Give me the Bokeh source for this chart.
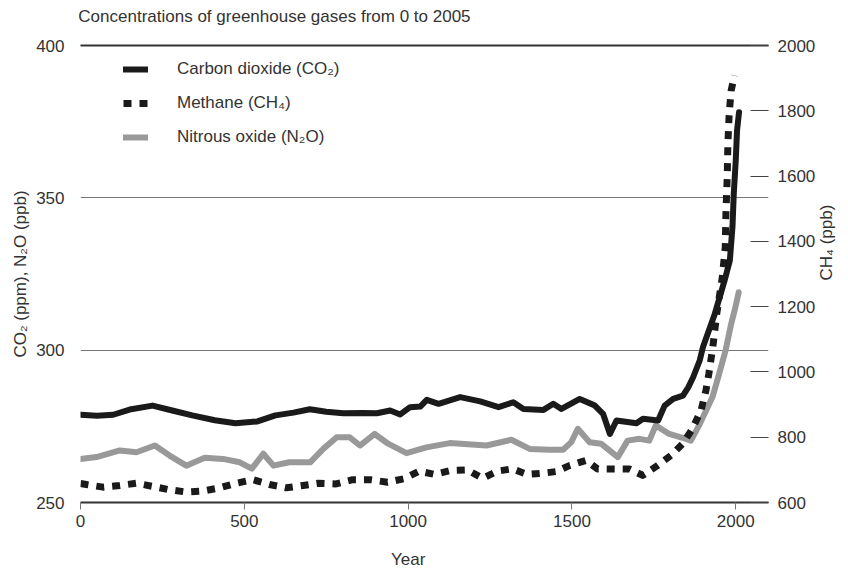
import math
from bokeh.plotting import figure
from bokeh.models import Range1d, LinearAxis, FixedTicker, Legend, LegendItem
from bokeh.embed import file_html
from bokeh.resources import INLINE

# ---- data ----
co2_year = [0, 50, 100, 150, 220, 280, 341, 410, 473, 540, 595, 650, 700, 750, 802, 860, 905,
            945, 976, 1006, 1037, 1057, 1093, 1159, 1220, 1276, 1321, 1352, 1413, 1443, 1468,
            1524, 1570, 1595, 1616, 1636, 1697, 1717, 1763, 1783, 1809, 1839, 1855, 1870, 1890,
            1900, 1936, 1966, 1982, 1990, 1994, 2000, 2004, 2010]
co2_ppm = [278.8, 278.5, 278.8, 280.5, 281.8, 280.2, 278.6, 277.0, 276.0, 276.6, 278.6, 279.5,
           280.6, 279.8, 279.3, 279.4, 279.3, 280.2, 278.9, 281.3, 281.5, 283.7, 282.4, 284.6,
           283.2, 281.3, 282.9, 280.7, 280.4, 282.4, 280.7, 284.0, 281.8, 279.1, 272.5, 276.9,
           276.0, 277.5, 276.9, 281.8, 284.0, 285.1, 287.8, 291.1, 296.6, 301.0, 311.9, 322.9,
           329.4, 340.4, 351.3, 362.2, 372.1, 378.1]

ch4_year = [0, 18, 69, 120, 171, 222, 272, 323, 374, 425, 475, 526, 577, 628, 679, 726, 780,
            831, 884, 937, 988, 1034, 1080, 1130, 1181, 1227, 1272, 1318, 1364, 1414, 1453,
            1492, 1543, 1578, 1629, 1675, 1716, 1761, 1802, 1838, 1868, 1894, 1909, 1918, 1930,
            1942, 1959, 1968, 1970, 1974, 1976, 1980, 1986, 1996]
ch4_ppb = [658, 655, 647, 652, 659, 649, 639, 632, 635, 645, 659, 670, 655, 645, 652, 659, 657,
           670, 670, 662, 673, 696, 686, 698, 700, 674, 696, 703, 686, 690, 695, 713, 729, 703,
           703, 703, 683, 713, 744, 780, 826, 882, 943, 995, 1076, 1178, 1290, 1382, 1484, 1597,
           1699, 1791, 1862, 1908]

n2o_year = [0, 49, 120, 171, 227, 272, 323, 379, 435, 486, 523, 558, 589, 637, 701, 741, 782,
            822, 853, 898, 939, 995, 1056, 1127, 1239, 1315, 1371, 1432, 1473, 1498, 1518, 1554,
            1589, 1640, 1670, 1706, 1736, 1756, 1797, 1848, 1863, 1888, 1929, 1948, 1969, 1986,
            1999, 2009]
n2o_ppb = [264.3, 264.9, 267.1, 266.5, 268.7, 265.4, 262.1, 264.7, 264.3, 263.2, 261.1, 266.0,
           262.1, 263.2, 263.2, 267.6, 271.4, 271.4, 268.7, 272.5, 269.3, 266.2, 268.1, 269.5,
           268.7, 270.6, 267.6, 267.3, 267.3, 269.8, 274.2, 269.8, 269.3, 264.9, 270.3, 270.9,
           270.3, 275.3, 272.5, 270.9, 270.3, 275.3, 284.6, 291.7, 299.9, 308.6, 314.1, 319.0]

x_ticks = [0, 500, 1000, 1500, 2000]
left_ticks = [250, 300, 350, 400]
right_ticks = [600, 800, 1000, 1200, 1400, 1600, 1800, 2000]
grid_levels = [300, 350]

title_text = "Concentrations of greenhouse gases from 0 to 2005"
labels = ["Carbon dioxide (CO\u2082)", "Methane (CH\u2084)", "Nitrous oxide (N\u2082O)"]
left_label = "CO\u2082 (ppm), N\u2082O (ppb)"
right_label = "CH\u2084 (ppb)"
x_label = "Year"
# anchor positions (data units) of the captions
title_at_year = 592
x_label_at_year = 1000
right_label_at_ppb = 1280

FONT = "Liberation Sans"
TEXT = "#333333"
FS = "17px"

p = figure(width=848, height=571, output_backend="svg", toolbar_location=None, title=None,
           x_range=Range1d(0, 2100), y_range=Range1d(250, 400),
           min_border_left=80, min_border_right=78, min_border_top=45, min_border_bottom=69)
p.extra_y_ranges = {"ch4": Range1d(600, 2000)}
p.outline_line_color = None
p.xgrid.visible = False
p.ygrid.ticker = FixedTicker(ticks=grid_levels)
p.ygrid.grid_line_color = "#777777"
p.ygrid.grid_line_width = 1


def style_labels(ax):
    ax.major_label_text_font = FONT
    ax.major_label_text_font_size = FS
    ax.major_label_text_color = TEXT
    ax.minor_tick_line_color = None


# left axis
ya = p.yaxis[0]
ya.ticker = FixedTicker(ticks=left_ticks)
ya.axis_line_color = None
ya.major_tick_line_color = None
ya.major_label_standoff = 10
style_labels(ya)
ya.axis_label = left_label
ya.axis_label_text_font = FONT
ya.axis_label_text_font_size = FS
ya.axis_label_text_font_style = "normal"
ya.axis_label_text_color = TEXT
ya.axis_label_standoff = 3

# bottom axis
xa = p.xaxis[0]
xa.ticker = FixedTicker(ticks=x_ticks)
xa.axis_line_color = "#333333"
xa.axis_line_width = 2
xa.major_tick_in = 0
xa.major_tick_out = 7
xa.major_tick_line_color = "#777777"
xa.major_label_standoff = 5
style_labels(xa)

# "Year" caption under the 1000 tick
xcap = LinearAxis(ticker=FixedTicker(ticks=[x_label_at_year]),
                  major_label_overrides={x_label_at_year: x_label})
xcap.axis_line_color = None
xcap.major_tick_line_color = None
xcap.major_label_standoff = 14
style_labels(xcap)
p.add_layout(xcap, "below")

# top line at 400 with the chart title above it
top = LinearAxis(ticker=FixedTicker(ticks=[title_at_year]),
                 major_label_overrides={title_at_year: title_text})
top.axis_line_color = "#333333"
top.axis_line_width = 2
top.major_tick_line_color = None
top.major_label_standoff = 14
style_labels(top)
p.add_layout(top, "above")

# right axis (CH4)
ra = LinearAxis(y_range_name="ch4", ticker=FixedTicker(ticks=right_ticks))
ra.axis_line_color = None
ra.major_tick_in = 18
ra.major_tick_out = 0
ra.major_tick_line_color = "#444444"
ra.major_label_standoff = 9
style_labels(ra)
p.add_layout(ra, "right")

# right caption, reading bottom to top
rcap = LinearAxis(y_range_name="ch4", ticker=FixedTicker(ticks=[right_label_at_ppb]),
                  major_label_overrides={right_label_at_ppb: right_label})
rcap.axis_line_color = None
rcap.major_tick_line_color = None
rcap.major_label_standoff = 2
rcap.major_label_orientation = math.pi / 2
style_labels(rcap)
p.add_layout(rcap, "right")

# series
r3 = p.line(n2o_year, n2o_ppb, line_color="#999999", line_width=6, line_join="round", line_cap="round")
r1 = p.line(co2_year, co2_ppm, line_color="#1a1a1a", line_width=6, line_join="round", line_cap="round")
r2 = p.line(ch4_year, ch4_ppb, y_range_name="ch4", line_color="#1a1a1a", line_width=7,
            line_dash="8 8", line_join="round")

legend = Legend(items=[LegendItem(label=labels[0], renderers=[r1]),
                       LegendItem(label=labels[1], renderers=[r2]),
                       LegendItem(label=labels[2], renderers=[r3])],
                location=(43, 355), orientation="vertical",
                glyph_width=25, glyph_height=20, label_height=20, label_standoff=29,
                spacing=14, padding=0, margin=0, border_line_color=None,
                background_fill_alpha=0, label_text_font=FONT, label_text_font_size=FS,
                label_text_color=TEXT)
p.add_layout(legend)

open("out.html", "w").write(file_html(p, INLINE))
